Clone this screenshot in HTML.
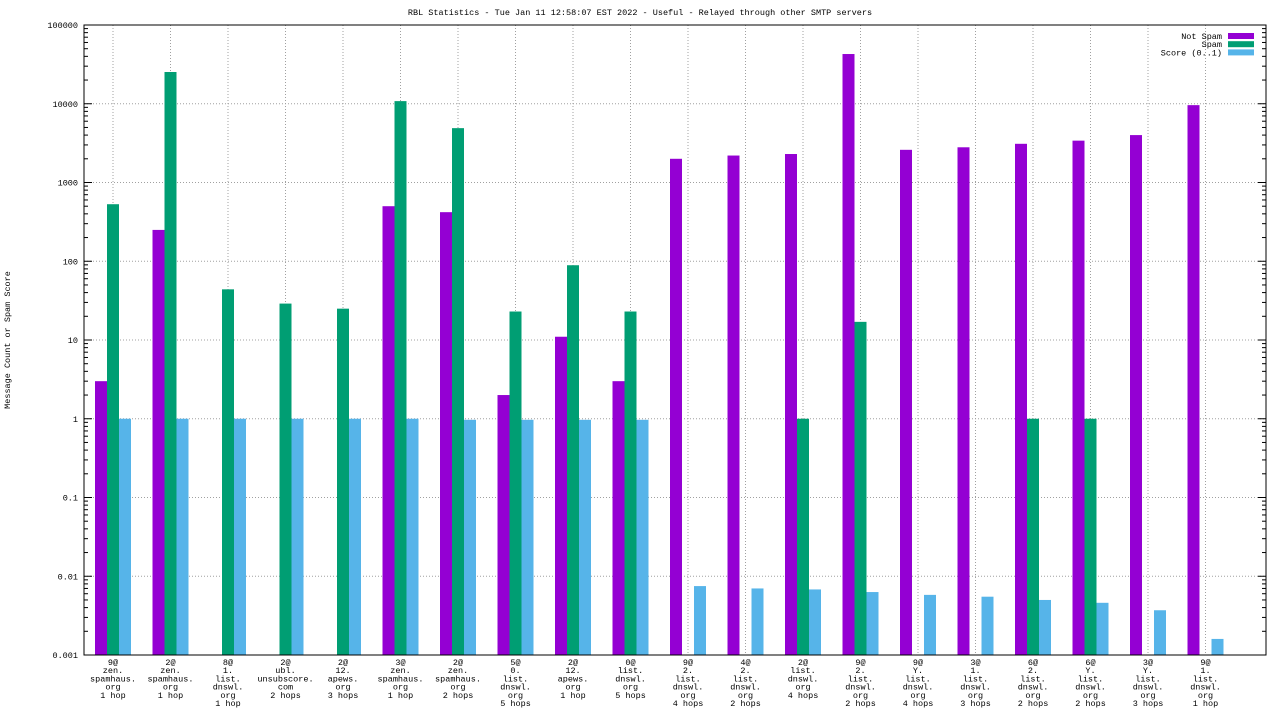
<!DOCTYPE html>
<html><head><meta charset="utf-8"><style>
html,body{margin:0;padding:0;background:#fff;}
svg text{font-family:"Liberation Mono",monospace;font-size:8.5px;fill:#000;}
</style></head><body>
<svg id="chart" width="1280" height="720" xmlns="http://www.w3.org/2000/svg">
<text x="640" y="15" text-anchor="middle">RBL Statistics - Tue Jan 11 12:58:07 EST 2022 - Useful - Relayed through other SMTP servers</text>
<text transform="translate(10,340) rotate(-90)" text-anchor="middle">Message Count or Spam Score</text>
<g id="grid"></g><g id="bars"></g><g id="axes"></g>
</svg>
<script>
const categories=[
["9@","zen.","spamhaus.","org","1 hop"],["2@","zen.","spamhaus.","org","1 hop"],["8@","1.","list.","dnswl.","org","1 hop"],["2@","ubl.","unsubscore.","com","2 hops"],["2@","12.","apews.","org","3 hops"],["3@","zen.","spamhaus.","org","1 hop"],["2@","zen.","spamhaus.","org","2 hops"],["5@","0.","list.","dnswl.","org","5 hops"],["2@","12.","apews.","org","1 hop"],["0@","list.","dnswl.","org","5 hops"],["9@","2.","list.","dnswl.","org","4 hops"],["4@","2.","list.","dnswl.","org","2 hops"],["2@","list.","dnswl.","org","4 hops"],["9@","2.","list.","dnswl.","org","2 hops"],["9@","Y.","list.","dnswl.","org","4 hops"],["3@","1.","list.","dnswl.","org","3 hops"],["6@","2.","list.","dnswl.","org","2 hops"],["6@","Y.","list.","dnswl.","org","2 hops"],["3@","Y.","list.","dnswl.","org","3 hops"],["9@","1.","list.","dnswl.","org","1 hop"]];
const notSpam=[3,250,0,0,0,500,420,2,11,3,2000,2200,2300,42800,2600,2800,3100,3400,4000,9600];
const spam=[530,25300,44,29,25,10800,4900,23,89,23,0,0,1,17,0,0,1,1,0,0];
const score=[1,1,1,1,1,1,0.97,0.97,0.97,0.97,0.0075,0.007,0.0068,0.0063,0.0058,0.0055,0.005,0.0046,0.0037,0.0016];
const yTicks=[0.001,0.01,0.1,1,10,100,1000,10000,100000];
const yTickLabels=["0.001","0.01","0.1","1","10","100","1000","10000","100000"];
const seriesNames=["Not Spam","Spam","Score (0..1)"];
const colors=["#9400d3","#009e73","#56b4e9"];
const L=84,R=1266,T=25,B=655;
const NS="http://www.w3.org/2000/svg";
function y(v){return T+(5-Math.log10(v))*(B-T)/8;}
function xc(i){return 113+i*(1187.5-95)/19;}
function mk(tag,attrs,parent,txt){const e=document.createElementNS(NS,tag);for(const k in attrs)e.setAttribute(k,attrs[k]);if(txt!==undefined)e.textContent=txt;parent.appendChild(e);return e;}
const grid=document.getElementById('grid'),bars=document.getElementById('bars'),axes=document.getElementById('axes');
yTicks.forEach((t,k)=>{
 const gl=mk('line',{x1:L,x2:R,y1:y(t),y2:y(t),stroke:'#a0a0a0','stroke-dasharray':'1,2','stroke-width':1},grid);
 
 
 const tl=mk('text',{x:L-6,y:y(t)+3,'text-anchor':'end'},axes,yTickLabels[k]);
 
 
 mk('line',{x1:L,x2:L+8,y1:y(t),y2:y(t),stroke:'#000'},axes);
 mk('line',{x1:R,x2:R-8,y1:y(t),y2:y(t),stroke:'#000'},axes);
 if(k<yTicks.length-1){for(let m=2;m<10;m++){const yy=y(t*m);mk('line',{x1:L,x2:L+4,y1:yy,y2:yy,stroke:'#000'},axes);mk('line',{x1:R,x2:R-4,y1:yy,y2:yy,stroke:'#000'},axes);}}
});
categories.forEach((c,i)=>{
 const cx=xc(i);
 const vl=mk('line',{x1:cx,x2:cx,y1:T,y2:B,stroke:'#a0a0a0','stroke-dasharray':'1,2'},grid);
 
 
 const tx=mk('text',{x:cx,y:665,'text-anchor':'middle'},axes);
 
 
 c.forEach((ln,j)=>{mk('tspan',{x:cx,y:665+j*8.2},tx,ln);});
 [notSpam,spam,score].forEach((arr,s)=>{
  const v=arr[i]; if(!v) return;
  const x0=cx-18+s*12;
  const r=mk('rect',{x:x0,y:y(v),width:12,height:B-y(v),fill:colors[s]},bars);
  
  
 });
});
const frame=mk('rect',{x:L,y:T,width:R-L,height:B-T,fill:'none',stroke:'#000'},axes);


seriesNames.forEach((n,s)=>{
 const yy=36+s*8.2;
 const lt=mk('text',{x:1222,y:yy+3,'text-anchor':'end'},axes,n);
 
 
 const sw=mk('rect',{x:1228,y:yy-3,width:26,height:6,fill:colors[s]},axes);
 
 
});
</script>
</body></html>
